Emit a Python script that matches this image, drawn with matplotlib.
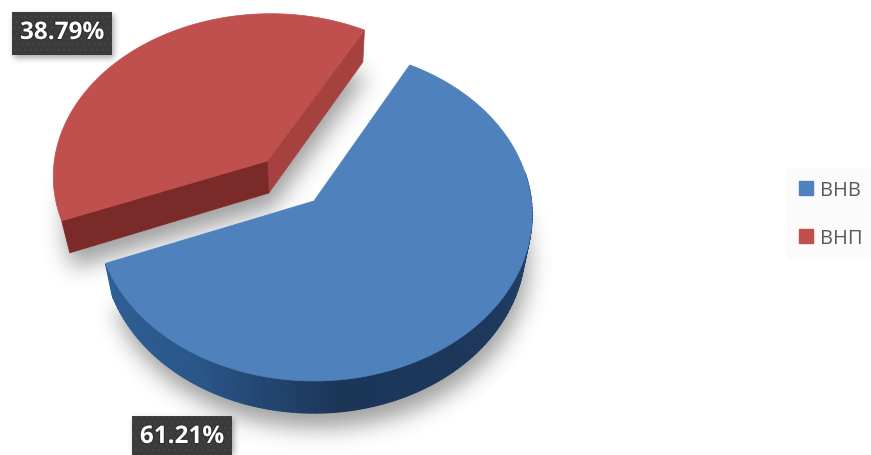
import numpy as np
import matplotlib
matplotlib.use('Agg')
import matplotlib.pyplot as plt
from matplotlib.patches import Patch, Polygon, Rectangle
from matplotlib.path import Path
import matplotlib.patheffects as pe

LABELS = ['ВНВ', 'ВНП']
SHARES = [61.21, 38.79]
TOP_COLORS = ['#4f81bd', '#c0504d']

W, H = 871, 456
APEX = (314, 202)
RX, RY = 217.3, 165.4
PERSP = 0.081       # back of the disc is drawn smaller
DEPTH = 32
START = 61.8        # first slice runs clockwise from here
EXPLODE = 0.33

plt.rcParams['font.family'] = ['Open Sans', 'DejaVu Sans']
plt.rcParams['hatch.linewidth'] = 0.5


def project(u, v, low=False):
    den = 1 + PERSP * v
    x = APEX[0] + RX * u / den
    y = APEX[1] - RY * v / den
    if low:
        x = APEX[0] + (x - APEX[0]) * 0.968
        y = y + DEPTH
    return x, y


def arc(t0, t1, off=(0, 0), low=False, n=160):
    t = np.radians(np.linspace(t0, t1, n))
    return np.column_stack(project(np.cos(t) + off[0], np.sin(t) + off[1], low))


def soft_shadow(polys, sigma, dx, dy, strength):
    # rasterised silhouette, blurred along both axes
    xx, yy = np.meshgrid(np.arange(W) + 0.5, np.arange(H) + 0.5)
    pts = np.column_stack([xx.ravel() - dx, yy.ravel() - dy])
    mask = np.zeros(W * H)
    for p in polys:
        mask = np.maximum(mask, Path(p).contains_points(pts).astype(float))
    mask = mask.reshape(H, W)
    r = int(3 * sigma)
    kernel = np.exp(-0.5 * (np.arange(-r, r + 1) / sigma) ** 2)
    kernel /= kernel.sum()
    mask = np.apply_along_axis(lambda c: np.convolve(c, kernel, mode='same'), 0, mask)
    mask = np.apply_along_axis(lambda c: np.convolve(c, kernel, mode='same'), 1, mask)
    img = np.zeros((H, W, 4))
    img[..., :3] = 0.25
    img[..., 3] = mask * strength
    return img


fig = plt.figure(figsize=(W / 100, H / 100), dpi=100)
ax = fig.add_axes([0, 0, 1, 1])
ax.set_xlim(0, W)
ax.set_ylim(H, 0)
ax.axis('off')

blue_end = START - SHARES[0] * 3.6

mid = np.radians(START + SHARES[1] * 1.8)
red_off = (EXPLODE * np.cos(mid), EXPLODE * np.sin(mid))
red_t0, red_t1 = START, START + SHARES[1] * 3.6

# outlines
blue_low = np.vstack([arc(START, blue_end, low=True), [project(0, 0, True)]])
red_low = np.vstack([arc(red_t0, red_t1, red_off, True), [project(*red_off, True)]])
blue_top = np.vstack([arc(START, blue_end), [project(0, 0)]])
red_top = np.vstack([arc(red_t0, red_t1, red_off), [project(*red_off)]])

ax.imshow(soft_shadow([blue_low, red_low], 11, 3, 15, 0.5), extent=(0, W, H, 0),
          aspect='auto', zorder=1, interpolation='bilinear')

# red slice: cut faces below the top
rc = project(*red_off)
rc_low = project(*red_off, True)
r_right = arc(red_t0, red_t0, red_off, n=1)[0]
r_right_low = arc(red_t0, red_t0, red_off, True, n=1)[0]
r_left = arc(red_t1, red_t1, red_off, n=1)[0]
r_left_low = arc(red_t1, red_t1, red_off, True, n=1)[0]
ax.add_patch(Polygon([rc, r_right, r_right_low, rc_low], fc='#a5423f', ec='#a5423f', lw=0.5, zorder=2))
ax.add_patch(Polygon([rc, r_left, r_left_low, rc_low], fc='#7a2b29', ec='#7a2b29', lw=0.5, zorder=2))
ax.add_patch(Polygon(red_top, fc=TOP_COLORS[1], ec=TOP_COLORS[1], lw=0.5, zorder=3))

# blue slice: rim shaded from left to right
rim_t = np.linspace(blue_end, 10, 140)
rim_r = np.interp(rim_t, [blue_end, -120, -85, -40, 10], [0x30, 0x2a, 0x1c, 0x1d, 0x24]) / 255
rim_g = np.interp(rim_t, [blue_end, -120, -85, -40, 10], [0x60, 0x56, 0x36, 0x38, 0x46]) / 255
rim_b = np.interp(rim_t, [blue_end, -120, -85, -40, 10], [0x96, 0x89, 0x58, 0x5c, 0x72]) / 255
for i in range(len(rim_t) - 1):
    a0, a1 = rim_t[i], rim_t[i + 1]
    quad = np.vstack([arc(a0, a1, n=2), arc(a1, a0, low=True, n=2)])
    col = (rim_r[i], rim_g[i], rim_b[i])
    ax.add_patch(Polygon(quad, fc=col, ec=col, lw=1.0, zorder=4))
ax.add_patch(Polygon(blue_top, fc=TOP_COLORS[0], ec=TOP_COLORS[0], lw=0.5, zorder=5))
# pale rim along the two cut edges
ax.plot(*zip(arc(START, START, n=1)[0], project(0, 0), arc(blue_end, blue_end, n=1)[0]),
        color='#dbe6f2', lw=1.0, zorder=4.5)

# value labels on dark dotted boxes
boxes = [(132, 417, 100, 45), (12, 13, 100, 43)]
ax.imshow(soft_shadow([[(x, y), (x + w, y), (x + w, y + h), (x, y + h)] for x, y, w, h in boxes], 3, 2, 3, 0.45),
          extent=(0, W, H, 0), aspect='auto', zorder=6, interpolation='bilinear')
ax.set_xlim(0, W)
ax.set_ylim(H, 0)
for (x, y, w, h), val in zip(boxes, SHARES):
    ax.add_patch(Rectangle((x, y), w, h, fc='#3b3b3b', ec='#4a4a4a', lw=0, hatch='...', zorder=7))
    ax.text(x + w / 2, y + 21, f'{val:.2f}%', color='white', fontsize=17.5, fontweight='bold',
            ha='center', va='center', zorder=8,
            path_effects=[pe.withStroke(linewidth=1.5, foreground='#2c2c2c')])

handles = [Patch(color=c, label=l) for c, l in zip(TOP_COLORS, LABELS)]
ax.legend(handles=handles, loc='center left', bbox_to_anchor=(787 / W, 1 - 215 / H),
          bbox_transform=ax.transAxes, frameon=True, facecolor='#fbfbfb', edgecolor='none',
          fancybox=False, framealpha=1, labelcolor='#595959', prop={'size': 14.5},
          handlelength=0.7, handleheight=0.7, handletextpad=0.35, labelspacing=1.4,
          borderpad=0.6, borderaxespad=0)

fig.savefig('out.png', dpi=100)
